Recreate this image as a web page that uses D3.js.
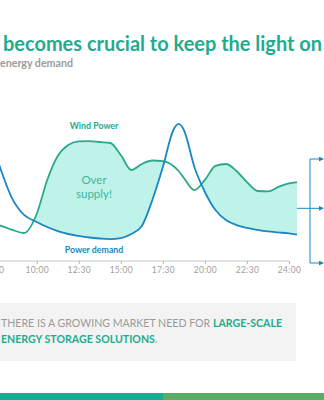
<!DOCTYPE html>
<html>
<head>
<meta charset="utf-8">
<script src="https://cdn.jsdelivr.net/npm/d3@7/dist/d3.min.js"></script>
<style>
  html, body { margin: 0; padding: 0; background: #fff; }
  svg { display: block; }
</style>
</head>
<body>
<svg id="chart" width="324" height="400"></svg>
<script>
// ---- data ----
const tickLabels = ["7:30", "10:00", "12:30", "15:00", "17:30", "20:00", "22:30", "24:00"];
const tickIndex  = [-1, 0, 1, 2, 3, 4, 5, 6];
// positions along the time axis (in tick-slot units)
const slots = [-0.9, -0.6, -0.3, 0, 0.25, 0.5, 0.75, 1, 1.25, 1.5, 1.75, 2, 2.25, 2.5, 2.75, 3, 3.25, 3.375, 3.5, 3.75, 4, 4.25, 4.5, 4.75, 5, 5.25, 5.5, 5.75, 6, 6.19];
const powerDemand = [70, 46.4, 33.6, 28.6, 25, 22.1, 20, 18.6, 17.5, 16.8, 16.4, 17.1, 20, 25.7, 44.3, 67.9, 94.3, 98.6, 94.3, 67.9, 50, 37.1, 30, 26.4, 24.3, 22.9, 21.8, 21.1, 20.4, 19.6];
const windPower   = [26.4, 23.2, 20.7, 34.3, 58.6, 75.7, 83.6, 86.1, 86.4, 85.7, 85, 76.4, 65.7, 70, 72.5, 72.1, 68.6, 65, 60, 51.4, 58.6, 68.6, 70, 65, 57.1, 50.7, 50.4, 53.6, 56.1, 57.1];

const titleText = "becomes crucial to keep the light on";
const subtitleText = "energy demand";
const boxLine1a = "THERE IS A GROWING MARKET NEED FOR ";
const boxLine1b = "LARGE-SCALE";
const boxLine2a = "ENERGY STORAGE SOLUTIONS";
const boxLine2b = ".";

// ---- styles ----
const TEAL = "#1fab8e";
const WIND = "#2aa88a";
const BLUE = "#1b87c2";
const FILL = "#bff3ea";
const GRAY = "#9b9b9b";

const svg = d3.select("#chart");

const x = d3.scaleLinear().domain([0, 6]).range([36.7, 289]);
const y = d3.scaleLinear().domain([0, 100]).range([262, 122]);

const rows = slots.map((s, i) => ({ s, d: powerDemand[i], w: windPower[i] }));
const curve = d3.curveMonotoneX;

// Title
svg.append("text")
  .attr("x", 3).attr("y", 51)
  .attr("font-family", "Lato, 'Open Sans', sans-serif")
  .attr("font-weight", 700)
  .attr("font-size", 20)
  .attr("fill", TEAL)
  .attr("textLength", 319)
  .attr("lengthAdjust", "spacingAndGlyphs")
  .text(titleText);

svg.append("text")
  .attr("x", 0).attr("y", 66.5)
  .attr("font-family", "Lato, 'Open Sans', sans-serif")
  .attr("font-weight", 700)
  .attr("font-size", 11.5)
  .attr("fill", GRAY)
  .attr("textLength", 73)
  .attr("lengthAdjust", "spacingAndGlyphs")
  .text(subtitleText);

// Clip: region above demand curve
const defs = svg.append("defs");
defs.append("clipPath").attr("id", "aboveDemand")
  .append("path")
  .attr("d", d3.area().curve(curve)
    .x(r => x(r.s)).y0(r => y(r.d)).y1(0)(rows));

// Fill: below wind, clipped to above demand
svg.append("path")
  .attr("clip-path", "url(#aboveDemand)")
  .attr("fill", FILL)
  .attr("d", d3.area().curve(curve)
    .x(r => x(r.s)).y0(r => y(r.w)).y1(y(0))(rows));

// Axis
const axis = d3.axisBottom(x)
  .tickValues(tickIndex)
  .tickFormat((d, i) => tickLabels[i])
  .tickSize(3)
  .tickSizeOuter(0);
const gAxis = svg.append("g").attr("transform", `translate(0,${y(0) - 1})`).call(axis);
gAxis.select(".domain").attr("stroke", "#c4c4c4").attr("d", `M${x(-1)},0H${x(6)}`);
gAxis.selectAll(".tick line").attr("stroke", "#b5b5b5");
gAxis.selectAll(".tick text")
  .attr("y", 6)
  .attr("fill", "#a0a0a0")
  .attr("font-family", "Lato, 'Open Sans', sans-serif")
  .attr("font-size", 8.5)
  .attr("letter-spacing", 0.3);

// Lines
const line = (key) => d3.line().curve(curve).x(r => x(r.s)).y(r => y(r[key]));
svg.append("path").attr("d", line("w")(rows))
  .attr("fill", "none").attr("stroke", WIND).attr("stroke-width", 1.8);
svg.append("path").attr("d", line("d")(rows))
  .attr("fill", "none").attr("stroke", BLUE).attr("stroke-width", 1.8);

// Labels
svg.append("text").attr("x", 94).attr("y", 129).attr("text-anchor", "middle")
  .attr("font-family", "Lato, 'Open Sans', sans-serif").attr("font-weight", 700)
  .attr("font-size", 8.8).attr("fill", WIND).text("Wind Power");
svg.append("text").attr("x", 94).attr("y", 253).attr("text-anchor", "middle")
  .attr("font-family", "Lato, 'Open Sans', sans-serif").attr("font-weight", 700)
  .attr("font-size", 8.8).attr("fill", BLUE).text("Power demand");
svg.append("text").attr("x", 94).attr("y", 184).attr("text-anchor", "middle")
  .attr("font-family", "Lato, 'Open Sans', sans-serif")
  .attr("font-size", 11.5).attr("fill", "#3fb59c").text("Over");
svg.append("text").attr("x", 94).attr("y", 197.5).attr("text-anchor", "middle")
  .attr("font-family", "Lato, 'Open Sans', sans-serif")
  .attr("font-size", 11.5).attr("fill", "#3fb59c").text("supply!");

// Bracket arrows on the right
const last = rows[rows.length - 1];
const midY = (y(last.w) + y(last.d)) / 2;
defs.append("marker").attr("id", "arr").attr("viewBox", "0 0 6 6")
  .attr("refX", 5).attr("refY", 3).attr("markerWidth", 5).attr("markerHeight", 5)
  .attr("orient", "auto")
  .append("path").attr("d", "M0,0L6,3L0,6Z").attr("fill", BLUE);
const bx = 310, topY = 159, botY = 263;
svg.append("path").attr("d", `M${bx},${topY}V${botY}`).attr("stroke", BLUE).attr("stroke-width", 1).attr("fill", "none");
[[bx, topY], [x(last.s), midY], [bx, botY]].forEach(([x0, yy]) => {
  svg.append("path").attr("d", `M${x0},${yy}H323`)
    .attr("stroke", BLUE).attr("stroke-width", 1).attr("fill", "none")
    .attr("marker-end", "url(#arr)");
});

// Gray message box
svg.append("rect").attr("x", 0).attr("y", 303).attr("width", 296).attr("height", 58).attr("fill", "#f3f3f3");
const t1 = svg.append("text").attr("x", 1).attr("y", 327)
  .attr("font-family", "Lato, 'Open Sans', sans-serif").attr("font-size", 10.6);
t1.append("tspan").attr("fill", "#9a9a9a").text(boxLine1a);
t1.append("tspan").attr("fill", TEAL).attr("font-weight", 700).text(boxLine1b);
const t2 = svg.append("text").attr("x", 1).attr("y", 343)
  .attr("font-family", "Lato, 'Open Sans', sans-serif").attr("font-size", 10.6);
t2.append("tspan").attr("fill", TEAL).attr("font-weight", 700).text(boxLine2a);
t2.append("tspan").attr("fill", "#9a9a9a").text(boxLine2b);

// Bottom color bar
svg.append("rect").attr("x", 0).attr("y", 393).attr("width", 163).attr("height", 7).attr("fill", "#1aab93");
svg.append("rect").attr("x", 163).attr("y", 393).attr("width", 161).attr("height", 7).attr("fill", "#5aad65");
</script>
</body>
</html>
